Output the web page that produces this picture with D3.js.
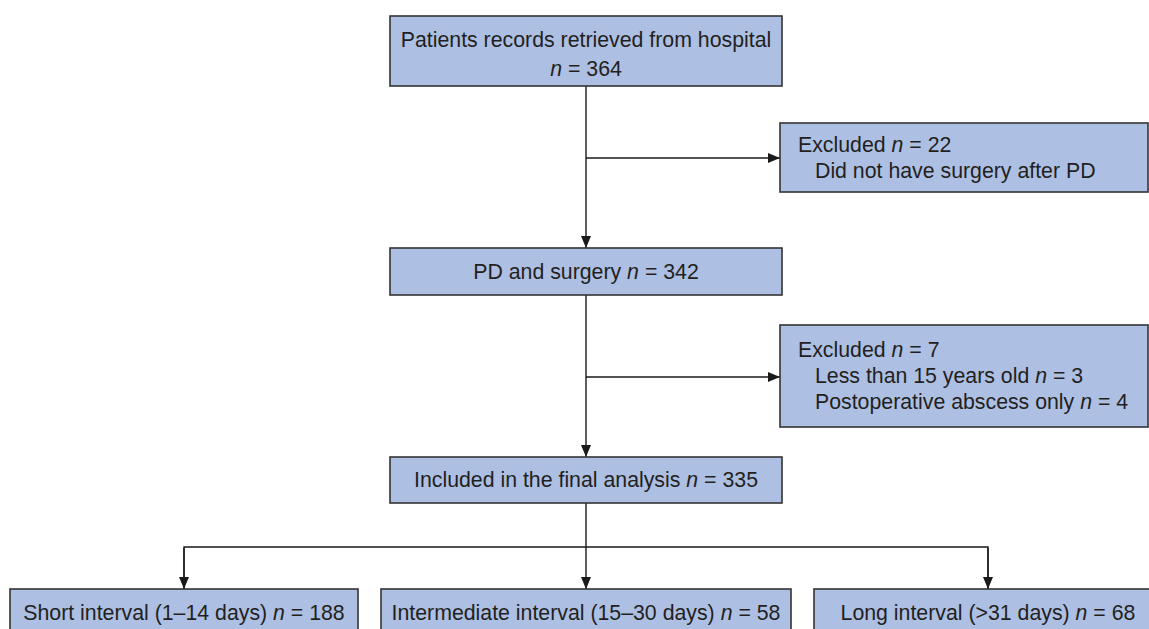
<!DOCTYPE html>
<html>
<head>
<meta charset="utf-8">
<script src="https://cdn.jsdelivr.net/npm/d3@7/dist/d3.min.js"></script>
<style>
html,body{margin:0;padding:0;background:#fff;}
svg{display:block;}
text{font-family:"Liberation Sans",Arial,Helvetica,sans-serif;fill:#231f20;}
</style>
</head>
<body>
<svg id="chart" width="1149" height="629"></svg>
<script>
// ---- data ----
const stageLabels = ["Patients records retrieved from hospital", "PD and surgery", "Included in the final analysis"];
const stageCounts = [364, 342, 335];
const exclusionTitles = ["Excluded", "Excluded"];
const exclusionCounts = [22, 7];
const exclusionReasons = [["Did not have surgery after PD"], ["Less than 15 years old", "Postoperative abscess only"]];
const exclusionReasonCounts = [[null], [3, 4]];
const groupLabels = ["Short interval (1\u201314 days)", "Intermediate interval (15\u201330 days)", "Long interval (>31 days)"];
const groupCounts = [188, 58, 68];

// ---- layout ----
const svg = d3.select("#chart");
const FILL = "#adc0e4", STROKE = "#333333", LINE = "#1a1a1a";
const FS = 21.3;

const mainX = d3.scaleLinear().domain([0, 1]).range([390, 782]);
const cx = (mainX(0) + mainX(1)) / 2;
const stageBoxes = [
  {y0: 16, y1: 86},
  {y0: 248, y1: 295},
  {y0: 457, y1: 503}
];
const exclBoxes = [
  {x0: 780, x1: 1148, y0: 123, y1: 192},
  {x0: 780, x1: 1148, y0: 325, y1: 427}
];
const groupX = d3.scalePoint().domain(groupLabels).range([184, 988]);
const groupW = [348, 410, 348];
const groupY0 = 589, groupY1 = 660;
const busY = 547;

const defs = svg.append("defs");
defs.append("marker").attr("id", "arr").attr("viewBox", "0 0 12 12")
  .attr("refX", 12).attr("refY", 6).attr("markerWidth", 12).attr("markerHeight", 12)
  .attr("markerUnits", "userSpaceOnUse").attr("orient", "auto")
  .append("path").attr("d", "M0,1 L12,6 L0,11 Z").attr("fill", LINE);

function box(x0, y0, x1, y1) {
  svg.append("rect").attr("x", x0).attr("y", y0).attr("width", x1 - x0).attr("height", y1 - y0)
    .attr("fill", FILL).attr("stroke", STROKE).attr("stroke-width", 1.6);
}
function line(pts, arrow) {
  const p = svg.append("path").attr("d", d3.line()(pts)).attr("fill", "none")
    .attr("stroke", LINE).attr("stroke-width", 1.4);
  if (arrow) p.attr("marker-end", "url(#arr)");
}
function nText(sel, label, n) {
  if (label) sel.append("tspan").text(label + " ");
  sel.append("tspan").attr("font-style", "italic").text("n");
  sel.append("tspan").text(" = " + n);
}

// connectors
line([[cx, stageBoxes[0].y1], [cx, stageBoxes[1].y0]], true);
line([[cx, 158], [exclBoxes[0].x0, 158]], true);
line([[cx, stageBoxes[1].y1], [cx, stageBoxes[2].y0]], true);
line([[cx, 377], [exclBoxes[1].x0, 377]], true);
line([[cx, stageBoxes[2].y1], [cx, groupY0]], true);
line([[groupX(groupLabels[0]), groupY0], [groupX(groupLabels[0]), busY], [groupX(groupLabels[2]), busY], [groupX(groupLabels[2]), groupY0]], false);
line([[groupX(groupLabels[0]), busY + 1], [groupX(groupLabels[0]), groupY0]], true);
line([[groupX(groupLabels[2]), busY + 1], [groupX(groupLabels[2]), groupY0]], true);

// stage boxes
stageBoxes.forEach((b) => box(mainX(0), b.y0, mainX(1), b.y1));
svg.append("text").attr("x", cx).attr("y", 47).attr("text-anchor", "middle").attr("font-size", FS).text(stageLabels[0]);
nText(svg.append("text").attr("x", cx).attr("y", 76).attr("text-anchor", "middle").attr("font-size", FS), null, stageCounts[0]);
nText(svg.append("text").attr("x", cx).attr("y", 279).attr("text-anchor", "middle").attr("font-size", FS), stageLabels[1], stageCounts[1]);
nText(svg.append("text").attr("x", cx).attr("y", 487).attr("text-anchor", "middle").attr("font-size", FS), stageLabels[2], stageCounts[2]);

// exclusion boxes
const exclBase = [152, 357];
exclBoxes.forEach((b, i) => {
  box(b.x0, b.y0, b.x1, b.y1);
  nText(svg.append("text").attr("x", b.x0 + 18).attr("y", exclBase[i]).attr("font-size", FS), exclusionTitles[i], exclusionCounts[i]);
  exclusionReasons[i].forEach((r, j) => {
    const t = svg.append("text").attr("x", b.x0 + 35).attr("y", exclBase[i] + 26 * (j + 1)).attr("font-size", FS);
    const c = exclusionReasonCounts[i][j];
    if (c === null) t.text(r); else nText(t, r, c);
  });
});

// group boxes
groupLabels.forEach((g, i) => {
  const gx = groupX(g), w = groupW[i];
  box(gx - w / 2, groupY0, gx + w / 2, groupY1);
  nText(svg.append("text").attr("x", gx).attr("y", 620).attr("text-anchor", "middle").attr("font-size", FS), g, groupCounts[i]);
});
</script>
</body>
</html>
